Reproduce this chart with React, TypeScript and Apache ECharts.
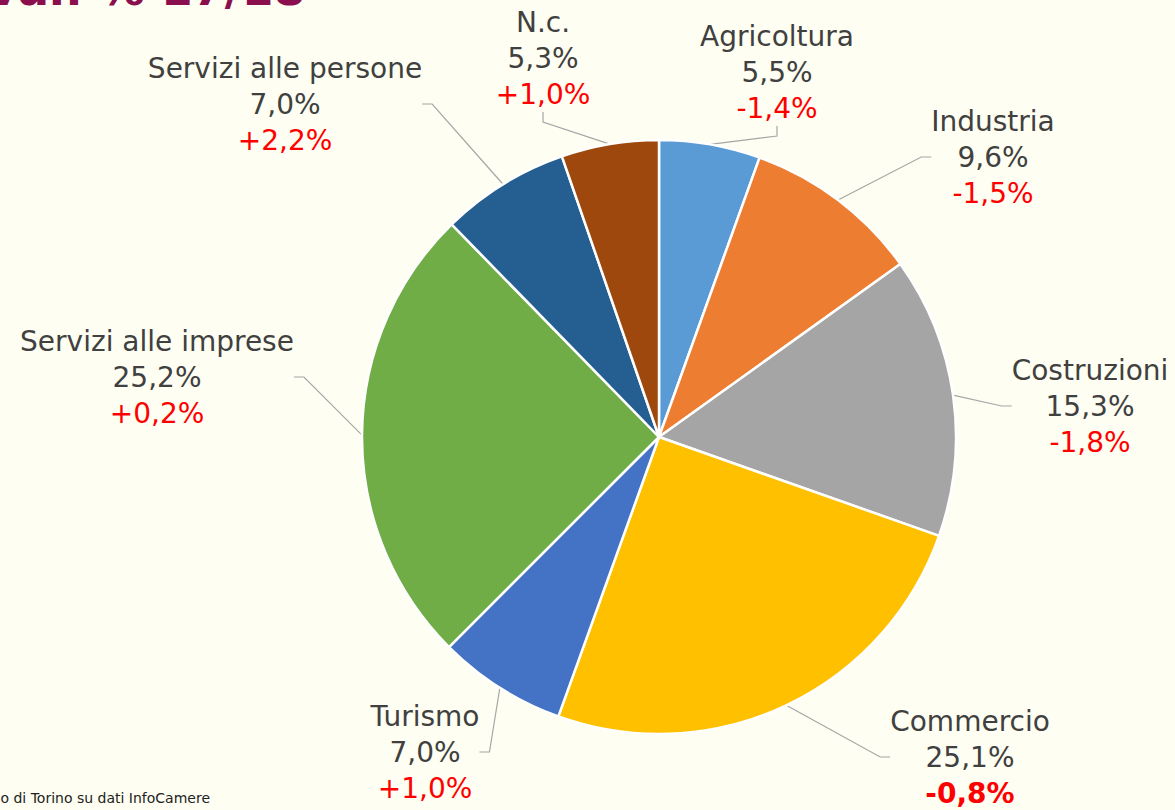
import React, { useEffect, useRef } from "react";
import * as echarts from "echarts";

const categories = [
  "Agricoltura",
  "Industria",
  "Costruzioni",
  "Commercio",
  "Turismo",
  "Servizi alle imprese",
  "Servizi alle persone",
  "N.c.",
];
const shares = [5.5, 9.6, 15.3, 25.1, 7.0, 25.2, 7.0, 5.3];
const changes = ["-1,4%", "-1,5%", "-1,8%", "-0,8%", "+1,0%", "+0,2%", "+2,2%", "+1,0%"];
const colors = ["#5B9BD5", "#ED7D31", "#A5A5A5", "#FFC000", "#4472C4", "#70AD47", "#255E91", "#9E480E"];
// label block centres (layout only)
const labelPos = [
  [777, 72],
  [993, 157],
  [1090, 406],
  [970, 757],
  [425, 752],
  [157, 377],
  [285, 104],
  [543, 58],
];
const boldChange = [false, false, false, true, false, false, false, false];

const FONT = "'DejaVu Sans', sans-serif";
const FS = 28;

export default function App() {
  const ref = useRef<HTMLDivElement>(null);
  useEffect(() => {
    if (!ref.current) return;
    const chart = echarts.init(ref.current, null, { renderer: "svg" });
    const data = categories.map((name, i) => ({
      name,
      value: shares[i],
      itemStyle: { color: colors[i] },
      label: {
        formatter: `{n|${name}}\n{v|${shares[i].toFixed(1).replace(".", ",")}%}\n{${boldChange[i] ? "cb" : "c"}|${changes[i]}}`,
      },
    }));
    chart.setOption({
      animation: false,
      backgroundColor: "#FEFEF2",
      graphic: [
        {
          type: "text",
          left: -12,
          top: -34,
          style: {
            text: "var. % 17/18",
            font: "bold 46px 'DejaVu Sans', sans-serif",
            fill: "#8B0F4E",
          },
        },
        {
          type: "text",
          right: 1175 - 210,
          top: 791,
          style: {
            text: "Fonte: elaborazione Camera di commercio di Torino su dati InfoCamere",
            font: "14px 'DejaVu Sans', sans-serif",
            fill: "#222222",
          },
        },
      ],
      series: [
        {
          type: "pie",
          center: [659, 437],
          radius: 297,
          startAngle: 90,
          clockwise: true,
          data,
          itemStyle: { borderColor: "#FFFFFF", borderWidth: 2.5 },
          label: {
            show: true,
            position: "outside",
            align: "center",
            lineHeight: 36,
            rich: {
              n: { fontFamily: FONT, fontSize: FS, color: "#404040", lineHeight: 36, align: "center" },
              v: { fontFamily: FONT, fontSize: FS, color: "#404040", lineHeight: 36, align: "center" },
              c: { fontFamily: FONT, fontSize: FS, color: "#FF0000", lineHeight: 36, align: "center" },
              cb: { fontFamily: FONT, fontSize: FS, color: "#FF0000", lineHeight: 36, align: "center", fontWeight: "bold" },
            },
          },
          labelLine: {
            show: true,
            length: 20,
            length2: 10,
            lineStyle: { color: "#A6A6A6", width: 1.2 },
          },
          labelLayout: (params: any) => {
            const p = labelPos[params.dataIndex];
            return { x: p[0], y: p[1], align: "center", verticalAlign: "middle" };
          },
        },
      ],
    });
    return () => chart.dispose();
  }, []);
  return (
    <div
      ref={ref}
      style={{ position: "absolute", left: 0, top: 0, width: 1175, height: 810 }}
    />
  );
}
